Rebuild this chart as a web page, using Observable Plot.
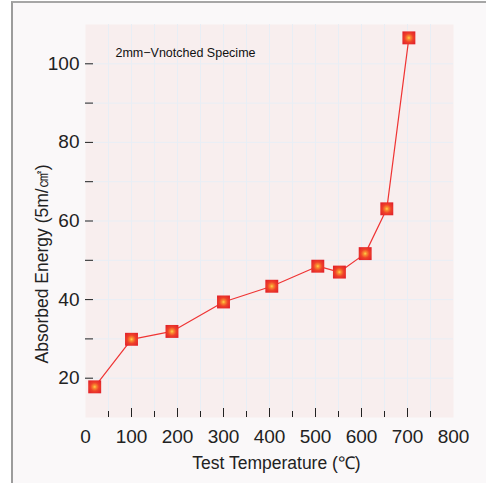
<!DOCTYPE html>
<html>
<head>
<meta charset="utf-8">
<script src="https://cdn.jsdelivr.net/npm/d3@7"></script>
<script src="https://cdn.jsdelivr.net/npm/@observablehq/plot@0.6"></script>
<style>
  html, body { margin: 0; padding: 0; background: #ffffff; }
  #chart { position: relative; width: 486px; height: 483px; overflow: hidden; }
  #panel {
    position: absolute; left: 11px; top: 1px; right: 0; bottom: 0;
    border-left: 2px solid #9c9c9c; border-top: 2px solid #a6a6a6;
    background: #faf8f9;
  }
  #chart svg { position: absolute; left: 0; top: 0; }
</style>
</head>
<body>
<div id="chart"><div id="panel"></div></div>
<script>
// Charpy impact energy vs. test temperature
const temperatures = [20, 100, 188, 300, 405, 505, 552, 608, 655, 703];
const energies = [17.8, 29.9, 31.9, 39.4, 43.4, 48.5, 47.0, 51.7, 63.1, 106.6];

const xTickLabels = [0, 100, 200, 300, 400, 500, 600, 700, 800];
const xMajorTicks = [100, 200, 300, 400, 500, 600, 700];
const xMinorTicks = [50, 150, 250, 350, 450, 550, 650, 750];
const xGridLines = [50, 100, 150, 200, 250, 300, 350, 400, 450, 500, 550, 600, 650, 700, 750];
const yTickLabels = [20, 40, 60, 80, 100];
const yTicks = [20, 30, 40, 50, 60, 70, 80, 90, 100];

const xTitle = "Test Temperature (℃)";
const yTitle = "Absorbed Energy (5m/㎠)";
const note = "2mm−Vnotched Specime";

const points = temperatures.map((t, i) => ({temperature: t, energy: energies[i]}));

// radial glow used to fill the square markers
const markerDefs = () => {
  const defs = d3.create("svg:defs");
  const g = defs.append("radialGradient").attr("id", "markerGlow")
    .attr("cx", "50%").attr("cy", "50%").attr("r", "60%");
  [["0%", "#ffd24a"], ["22%", "#f98a30"], ["55%", "#ef4129"], ["100%", "#e2232a"]]
    .forEach(([o, c]) => g.append("stop").attr("offset", o).attr("stop-color", c));
  return defs.node();
};

const font = "'Liberation Sans', Arial, sans-serif";

const chart = Plot.plot({
  width: 486,
  height: 483,
  marginLeft: 85,
  marginRight: 33,
  marginTop: 24,
  marginBottom: 66,
  style: {background: "transparent", fontFamily: font, fontSize: "19px", color: "#222"},
  x: {domain: [0, 800]},
  y: {domain: [10, 110]},
  marks: [
    markerDefs,
    Plot.frame({fill: "#f8eeee", stroke: "none"}),
    Plot.gridX(xGridLines, {stroke: "#e8eef5", strokeOpacity: 1, strokeWidth: 1}),
    Plot.gridY(yTicks, {stroke: "#e8eef5", strokeOpacity: 1, strokeWidth: 1}),
    Plot.axisX(xMajorTicks, {tickSize: -9, fill: "none", label: null, stroke: "#222"}),
    Plot.axisX(xMinorTicks, {tickSize: -6, fill: "none", label: null, stroke: "#222"}),
    Plot.axisX(xTickLabels, {tickSize: 0, tickPadding: 12, label: null, fontSize: 19}),
    Plot.axisY(yTicks, {tickSize: -8, fill: "none", label: null, stroke: "#222"}),
    Plot.axisY(yTickLabels, {tickSize: 0, tickPadding: 6, label: null, fontSize: 19}),
    Plot.line(points, {x: "temperature", y: "energy", stroke: "#ef3434", strokeWidth: 1.2}),
    Plot.dot(points, {x: "temperature", y: "energy", symbol: "square", r: 7.3, fill: "url(#markerGlow)", stroke: "none"}),
    Plot.text([note], {frameAnchor: "top-left", text: d => d, textAnchor: "start", lineAnchor: "bottom", dx: 30, dy: 32, fontSize: 12.5, fill: "#111"}),
    Plot.text([xTitle], {frameAnchor: "bottom", text: d => d, textAnchor: "middle", lineAnchor: "bottom", dx: 7, dy: 51, fontSize: 17.5, fill: "#222"}),
    Plot.text([yTitle], {frameAnchor: "left", text: d => d, textAnchor: "middle", rotate: -90, lineAnchor: "bottom", dx: -38, dy: 43, fontSize: 17.5, fill: "#222"})
  ]
});

document.getElementById("chart").appendChild(chart);
</script>
</body>
</html>
